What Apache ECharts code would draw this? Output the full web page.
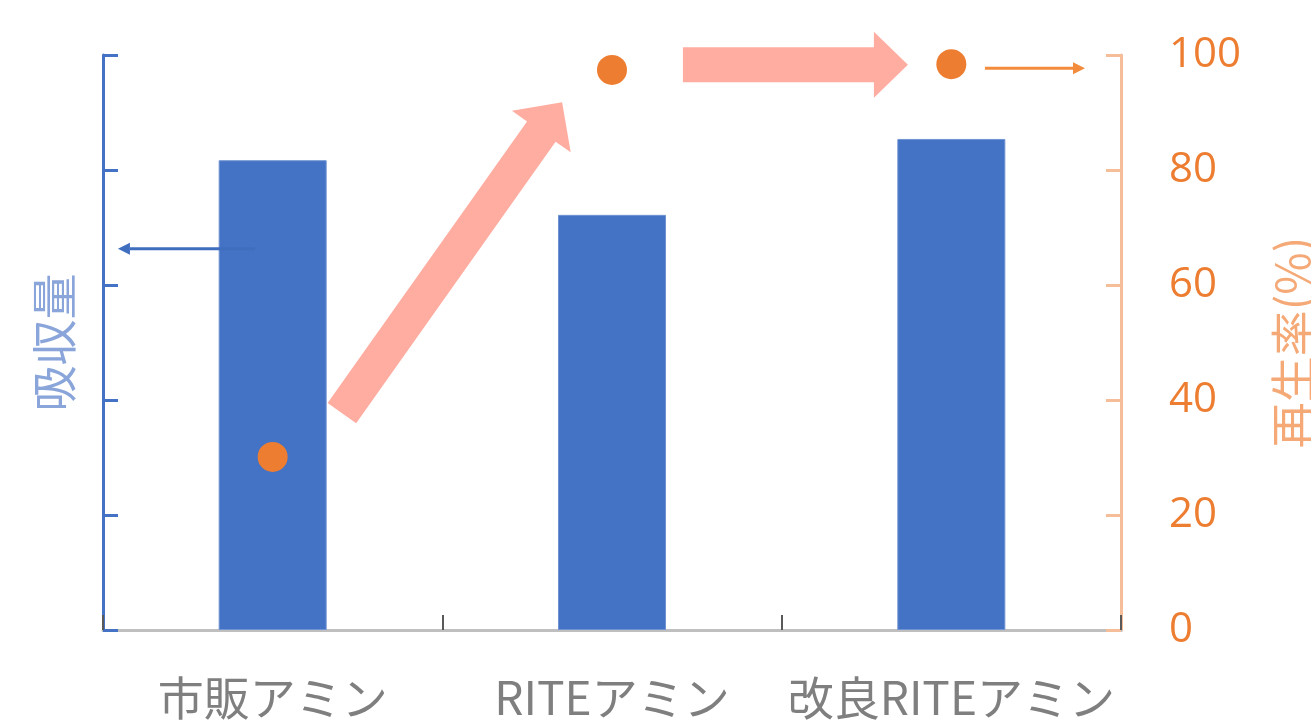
<!DOCTYPE html>
<html><head><meta charset="utf-8">
<script src="https://cdn.jsdelivr.net/npm/echarts@6/dist/echarts.min.js"></script>
<style>html,body{margin:0;padding:0;background:#fff}#c{width:1311px;height:725px}</style>
</head><body><div id="c"></div>
<script>
// ---- data ----
const categories = ['市販アミン', 'RITEアミン', '改良RITEアミン'];
const absorption = [81.7, 72.2, 85.4];      // 吸収量 (bars, left axis)
const regeneration = [30.1, 97.4, 98.4];    // 再生率(%) (points, right axis)
const rightTicks = [0, 20, 40, 60, 80, 100];
// annotation arrows in data space [x (category index units), y (0-100)]
const bigArrowDiag = [[0.204, 37.7], [0.853, 91.8]];
const bigArrowHoriz = [[1.209, 98.3], [1.872, 98.3]];
const thinArrowLeft = [[-0.052, 66.3], [-0.456, 66.3]];
const thinArrowRight = [[2.099, 97.7], [2.394, 97.7]];

const chart = echarts.init(document.getElementById('c'), null, {renderer: 'canvas'});
const option = {
  animation: false,
  grid: {left: 103, right: 190, top: 55, bottom: 95, containLabel: false, outerBoundsMode: 'none'},
  xAxis: [{
    type: 'category', data: categories,
    axisLine: {lineStyle: {color: '#BFBFBF', width: 3}},
    axisTick: {show: true, interval: 0, inside: true, length: 15, lineStyle: {color: '#595959', width: 2}},
    axisLabel: {interval: 0, hideOverlap: false, fontFamily: 'Noto Sans CJK JP', fontSize: 46, color: '#7F7F7F', margin: 45, lineHeight: 46}
  }, {
    type: 'value', min: -0.5, max: 2.5, show: false
  }],
  yAxis: [{
    type: 'value', min: 0, max: 100, interval: 20, position: 'left',
    name: '吸収量', nameLocation: 'middle', nameRotate: 90, nameGap: 26,
    nameTextStyle: {fontFamily: 'Noto Sans CJK JP', fontSize: 46, color: '#8AA5DA'},
    axisLine: {show: true, onZero: false, lineStyle: {color: '#4472C4', width: 3}},
    axisTick: {show: true, inside: true, length: 15, lineStyle: {color: '#4472C4', width: 3}},
    axisLabel: {show: false}, splitLine: {show: false}
  }, {
    type: 'value', min: 0, max: 100, interval: 20, position: 'right',
    name: '再生率(%)', nameLocation: 'middle', nameRotate: 90, nameGap: 149,
    nameTextStyle: {fontFamily: 'Noto Sans CJK JP', fontSize: 46, color: '#F4A977'},
    axisLine: {show: true, onZero: false, lineStyle: {color: '#F6BE98', width: 3}},
    axisTick: {show: true, inside: true, length: 15, lineStyle: {color: '#F6BE98', width: 3}},
    axisLabel: {fontFamily: 'Open Sans', fontSize: 42, color: '#ED7D31', margin: 48,
      formatter: v => rightTicks.includes(v) ? String(v) : ''},
    splitLine: {show: false}
  }],
  series: [{
    type: 'bar', data: absorption, xAxisIndex: 0, yAxisIndex: 0, barWidth: 108,
    itemStyle: {color: '#4472C4', borderColor: '#6F93D3', borderWidth: 1}, z: 2
  }, {
    type: 'scatter', data: regeneration, xAxisIndex: 0, yAxisIndex: 1,
    symbol: 'circle', symbolSize: 30, itemStyle: {color: '#ED7D31', opacity: 1}, z: 5
  }]
};
chart.setOption(option);

function px(p) { return chart.convertToPixel({xAxisIndex: 1, yAxisIndex: 1}, p); }
function blockArrow(a, b, shaftHalf, headHalf, headLen, color) {
  const A = px(a), B = px(b);
  const dx = B[0] - A[0], dy = B[1] - A[1];
  const L = Math.hypot(dx, dy), ux = dx / L, uy = dy / L, nx = -uy, ny = ux;
  const bx = B[0] - ux * headLen, by = B[1] - uy * headLen;
  const pts = [
    [A[0] + nx * shaftHalf, A[1] + ny * shaftHalf],
    [bx + nx * shaftHalf, by + ny * shaftHalf],
    [bx + nx * headHalf, by + ny * headHalf],
    [B[0], B[1]],
    [bx - nx * headHalf, by - ny * headHalf],
    [bx - nx * shaftHalf, by - ny * shaftHalf],
    [A[0] - nx * shaftHalf, A[1] - ny * shaftHalf]
  ];
  return {type: 'polygon', shape: {points: pts}, style: {fill: color}, z: 10};
}
function thinArrow(a, b, color) {
  const A = px(a), B = px(b);
  const dx = B[0] - A[0], dy = B[1] - A[1];
  const L = Math.hypot(dx, dy), ux = dx / L, uy = dy / L, nx = -uy, ny = ux;
  const hl = 12, hw = 6;
  const bx = B[0] - ux * hl, by = B[1] - uy * hl;
  return [
    {type: 'line', shape: {x1: A[0], y1: A[1], x2: bx, y2: by}, style: {stroke: color, lineWidth: 3}, z: 10},
    {type: 'polygon', shape: {points: [[B[0], B[1]], [bx + nx * hw, by + ny * hw], [bx - nx * hw, by - ny * hw]]}, style: {fill: color}, z: 10}
  ];
}
chart.setOption({graphic: [
  blockArrow(bigArrowDiag[0], bigArrowDiag[1], 17.5, 36, 36, '#FFADA1'),
  blockArrow(bigArrowHoriz[0], bigArrowHoriz[1], 17.5, 33, 34, '#FFADA1'),
  ...thinArrow(thinArrowLeft[0], thinArrowLeft[1], '#3F6EBF'),
  ...thinArrow(thinArrowRight[0], thinArrowRight[1], '#F28C3C')
]});
</script>
</body></html>
